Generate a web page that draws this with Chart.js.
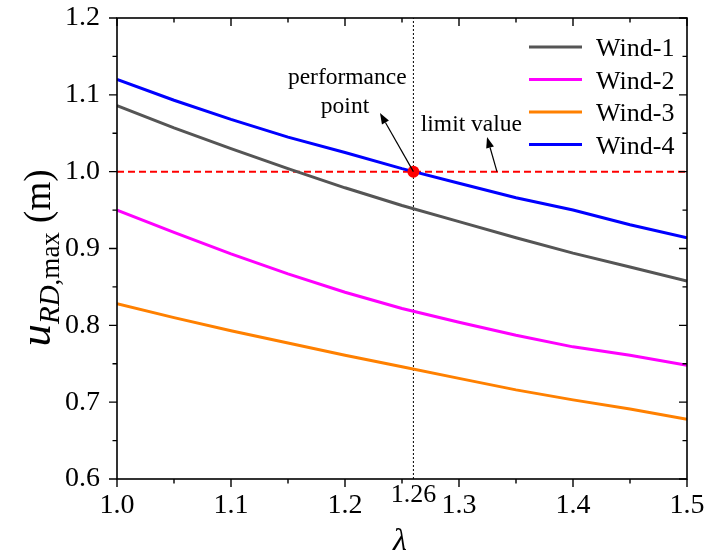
<!DOCTYPE html>
<html>
<head>
<meta charset="utf-8">
<script src="https://cdn.jsdelivr.net/npm/chart.js@4.4.0/dist/chart.umd.min.js"></script>
<style>
  html, body { margin: 0; padding: 0; background: #ffffff; }
  #wrap { width: 704px; height: 556px; }
</style>
</head>
<body>
<div id="wrap"><canvas id="chart" width="704" height="556"></canvas></div>
<script>
// Span ratio λ and the maximum displacement u_RD,max (m) for four wind cases
const lambdaValues = [1.00, 1.05, 1.10, 1.15, 1.20, 1.25, 1.30, 1.35, 1.40, 1.45, 1.50];
const wind1 = [1.086, 1.057, 1.030, 1.004, 0.979, 0.956, 0.935, 0.914, 0.894, 0.876, 0.8575];
const wind2 = [0.950, 0.921, 0.893, 0.867, 0.843, 0.822, 0.804, 0.787, 0.772, 0.761, 0.748];
const wind3 = [0.828, 0.810, 0.793, 0.777, 0.761, 0.746, 0.731, 0.716, 0.703, 0.691, 0.6776];
const wind4 = [1.120, 1.093, 1.068, 1.045, 1.025, 1.004, 0.985, 0.966, 0.950, 0.931, 0.914];

const seriesNames = ['Wind-1', 'Wind-2', 'Wind-3', 'Wind-4'];
const seriesColors = ['#555555', '#ff00ff', '#ff8000', '#0000ff'];

const limitValue = 1.0;
const performanceLambda = 1.26;

const xTicks = [1.0, 1.1, 1.2, 1.3, 1.4, 1.5];
const yTicks = [0.6, 0.7, 0.8, 0.9, 1.0, 1.1, 1.2];

const SERIF = '"Liberation Serif", "Times New Roman", serif';

function toPoints(xs, ys) {
  return xs.map((x, i) => ({ x: x, y: ys[i] }));
}

const windSets = [wind1, wind2, wind3, wind4].map((vals, i) => ({
  label: seriesNames[i],
  data: toPoints(lambdaValues, vals),
  borderColor: seriesColors[i],
  backgroundColor: seriesColors[i],
  borderWidth: 3,
  pointRadius: 0,
  tension: 0,
  order: 1 + i
}));

const datasets = [
  {
    label: 'performance point',
    data: [{ x: performanceLambda, y: limitValue }],
    showLine: false,
    pointRadius: 6,
    pointBackgroundColor: '#ff0000',
    pointBorderColor: '#ff0000',
    pointBorderWidth: 0,
    order: 0
  },
  ...windSets,
  {
    label: 'limit value',
    data: [{ x: lambdaValues[0], y: limitValue }, { x: lambdaValues[lambdaValues.length - 1], y: limitValue }],
    borderColor: '#ff0000',
    borderWidth: 2,
    borderDash: [7, 4],
    pointRadius: 0,
    order: 6
  },
  {
    label: 'λ = 1.26',
    data: [{ x: performanceLambda, y: yTicks[0] }, { x: performanceLambda, y: yTicks[yTicks.length - 1] }],
    borderColor: '#000000',
    borderWidth: 1,
    borderDash: [2, 2],
    pointRadius: 0,
    order: 7
  }
];

function drawArrow(ctx, x1, y1, x2, y2) {
  const ang = Math.atan2(y2 - y1, x2 - x1);
  const len = 11, half = 4;
  const bx = x2 - len * Math.cos(ang), by = y2 - len * Math.sin(ang);
  ctx.beginPath();
  ctx.moveTo(x1, y1);
  ctx.lineTo(bx, by);
  ctx.lineWidth = 1.2;
  ctx.strokeStyle = '#000';
  ctx.stroke();
  ctx.beginPath();
  ctx.moveTo(x2, y2);
  ctx.lineTo(bx + half * Math.sin(ang), by - half * Math.cos(ang));
  ctx.lineTo(bx - half * Math.sin(ang), by + half * Math.cos(ang));
  ctx.closePath();
  ctx.fillStyle = '#000';
  ctx.fill();
}

const framePlugin = {
  id: 'frame',
  afterDraw(chart) {
    const ctx = chart.ctx;
    const xs = chart.scales.x, ys = chart.scales.y;
    const a = chart.chartArea;
    ctx.save();

    // frame
    ctx.strokeStyle = '#000';
    ctx.lineWidth = 1.6;
    ctx.strokeRect(a.left, a.top, a.right - a.left, a.bottom - a.top);

    // tick marks: outward on bottom/left, inward on top/right
    const major = 8, minor = 4.5;
    ctx.lineWidth = 1.4;
    ctx.beginPath();
    xTicks.forEach((v, i) => {
      const px = xs.getPixelForValue(v);
      ctx.moveTo(px, a.bottom); ctx.lineTo(px, a.bottom + major);
      ctx.moveTo(px, a.top); ctx.lineTo(px, a.top + major);
      if (i < xTicks.length - 1) {
        const pm = xs.getPixelForValue((v + xTicks[i + 1]) / 2);
        ctx.moveTo(pm, a.bottom); ctx.lineTo(pm, a.bottom + minor);
        ctx.moveTo(pm, a.top); ctx.lineTo(pm, a.top + minor);
      }
    });
    yTicks.forEach((v, i) => {
      const py = ys.getPixelForValue(v);
      ctx.moveTo(a.left, py); ctx.lineTo(a.left - major, py);
      ctx.moveTo(a.right, py); ctx.lineTo(a.right - major, py);
      if (i < yTicks.length - 1) {
        const pm = ys.getPixelForValue((v + yTicks[i + 1]) / 2);
        ctx.moveTo(a.left, pm); ctx.lineTo(a.left - minor, pm);
        ctx.moveTo(a.right, pm); ctx.lineTo(a.right - minor, pm);
      }
    });
    ctx.stroke();

    // extra tick label at the performance point
    ctx.fillStyle = '#000';
    ctx.font = '26px ' + SERIF;
    ctx.textAlign = 'center';
    ctx.textBaseline = 'alphabetic';
    ctx.fillText('1.26', xs.getPixelForValue(performanceLambda), a.bottom + 23);

    // annotations
    const dotX = xs.getPixelForValue(performanceLambda);
    const dotY = ys.getPixelForValue(limitValue);
    ctx.font = '23.5px ' + SERIF;
    ctx.fillText('performance', xs.getPixelForValue(1.202), ys.getPixelForValue(1.1135));
    ctx.fillText('point', xs.getPixelForValue(1.200), ys.getPixelForValue(1.0765));
    drawArrow(ctx, dotX, dotY, xs.getPixelForValue(1.2307), ys.getPixelForValue(1.0765));
    ctx.textAlign = 'left';
    ctx.fillText('limit value', xs.getPixelForValue(1.2665), ys.getPixelForValue(1.0535));
    drawArrow(ctx, xs.getPixelForValue(1.3333), dotY, xs.getPixelForValue(1.3246), ys.getPixelForValue(1.0452));

    // legend
    ctx.font = '26px ' + SERIF;
    windSets.forEach((ds, i) => {
      const y = a.top + 29 + i * 32.5;
      ctx.beginPath();
      ctx.moveTo(529, y); ctx.lineTo(582, y);
      ctx.strokeStyle = ds.borderColor;
      ctx.lineWidth = 3;
      ctx.stroke();
      ctx.fillStyle = '#000';
      ctx.fillText(ds.label, 596, y + 9);
    });

    // x axis title
    ctx.textAlign = 'center';
    ctx.font = 'italic 32px ' + SERIF;
    ctx.fillText('λ', xs.getPixelForValue(1.25) - 2, 550);

    // y axis title: u_{RD,max} (m)
    const parts = [
      { t: 'u', f: 'italic 45px ' + SERIF, dy: 0 },
      { t: 'RD', f: 'italic 29px ' + SERIF, dy: 9 },
      { t: ',max', f: '27px ' + SERIF, dy: 9 },
      { t: ' (m)', f: '37px ' + SERIF, dy: 0 }
    ];
    let total = 0;
    parts.forEach(p => { ctx.font = p.f; p.w = ctx.measureText(p.t).width; total += p.w; });
    ctx.translate(50, 258);
    ctx.rotate(-Math.PI / 2);
    ctx.textAlign = 'left';
    let cx = -total / 2;
    parts.forEach(p => {
      ctx.font = p.f;
      ctx.fillText(p.t, cx, p.dy);
      cx += p.w;
    });
    ctx.restore();
  }
};

new Chart(document.getElementById('chart'), {
  type: 'line',
  data: { datasets: datasets },
  options: {
    responsive: false,
    animation: false,
    devicePixelRatio: 1,
    layout: { padding: { left: 0, top: 18, right: 17, bottom: 0 } },
    plugins: { legend: { display: false }, tooltip: { enabled: false } },
    scales: {
      x: {
        type: 'linear',
        min: xTicks[0],
        max: xTicks[xTicks.length - 1],
        afterBuildTicks: s => { s.ticks = xTicks.map(v => ({ value: v })); },
        afterFit: s => { s.height = 77; s.paddingLeft = 0; s.paddingRight = 0; },
        grid: { display: false, drawTicks: false },
        border: { display: false },
        ticks: {
          padding: 10,
          color: '#000',
          font: { family: SERIF, size: 28 },
          maxRotation: 0,
          autoSkip: false,
          callback: v => v.toFixed(1)
        }
      },
      y: {
        type: 'linear',
        min: yTicks[0],
        max: yTicks[yTicks.length - 1],
        afterBuildTicks: s => { s.ticks = yTicks.map(v => ({ value: v })); },
        afterFit: s => { s.width = 117; s.paddingTop = 0; s.paddingBottom = 0; },
        grid: { display: false, drawTicks: false },
        border: { display: false },
        ticks: {
          padding: 17,
          color: '#000',
          font: { family: SERIF, size: 28 },
          autoSkip: false,
          callback: v => v.toFixed(1)
        }
      }
    }
  },
  plugins: [framePlugin]
});
</script>
</body>
</html>
